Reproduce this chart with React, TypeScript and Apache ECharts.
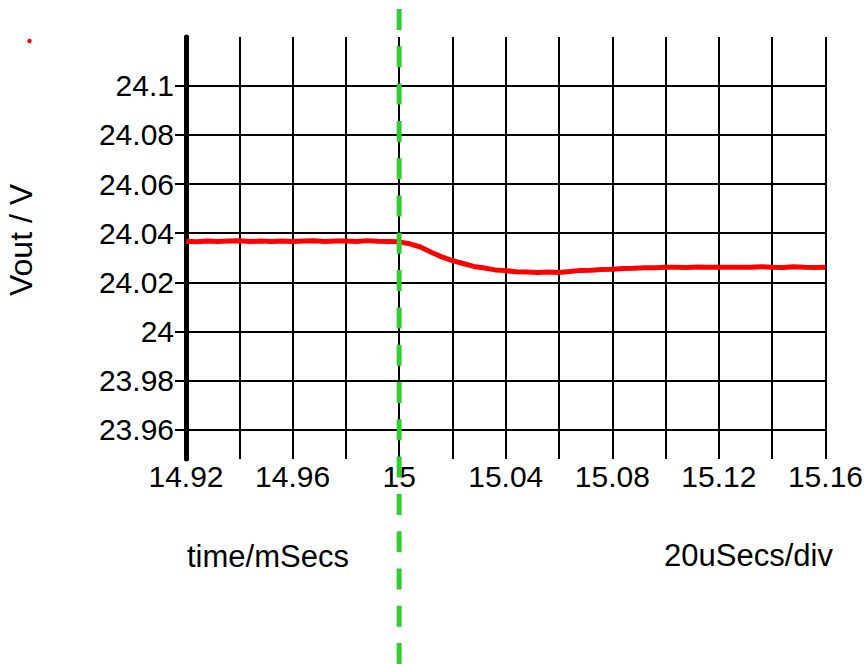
import React, { useEffect, useRef } from "react";
import * as echarts from "echarts";

// ---- data ----
const yTickValues = [23.96, 23.98, 24, 24.02, 24.04, 24.06, 24.08, 24.1];
const yTickLabels = ["23.96", "23.98", "24", "24.02", "24.04", "24.06", "24.08", "24.1"];
const xLabelValues = [14.92, 14.96, 15, 15.04, 15.08, 15.12, 15.16];
const xLabelTexts = ["14.92", "14.96", "15", "15.04", "15.08", "15.12", "15.16"];

const timeMs = [
  14.92, 14.924, 14.928, 14.932, 14.936, 14.94, 14.944, 14.948, 14.952, 14.956,
  14.96, 14.964, 14.968, 14.972, 14.976, 14.98, 14.984, 14.988, 14.992, 14.996,
  15.0, 15.004, 15.008, 15.012, 15.016, 15.02, 15.024, 15.028, 15.032, 15.036,
  15.04, 15.044, 15.048, 15.052, 15.056, 15.06, 15.064, 15.068, 15.072, 15.076,
  15.08, 15.084, 15.088, 15.092, 15.096, 15.1, 15.104, 15.108, 15.112, 15.116,
  15.12, 15.124, 15.128, 15.132, 15.136, 15.14, 15.144, 15.148, 15.152, 15.156,
  15.16,
];
const voutV = [
  24.0367, 24.0365, 24.0368, 24.0366, 24.0368, 24.0369, 24.0366, 24.0368, 24.0366, 24.0368,
  24.0366, 24.0368, 24.0369, 24.0366, 24.0368, 24.0368, 24.0366, 24.037, 24.0367, 24.0366,
  24.0365, 24.0357, 24.0344, 24.0323, 24.0304, 24.0289, 24.0277, 24.0265, 24.0259, 24.0251,
  24.0248, 24.0243, 24.0242, 24.024, 24.0242, 24.024, 24.0244, 24.0249, 24.025, 24.0253,
  24.0254, 24.0257, 24.0258, 24.0260, 24.026, 24.0262, 24.0262, 24.0261, 24.0263, 24.0262,
  24.0262, 24.0262, 24.0262, 24.0262, 24.0264, 24.0262, 24.0261, 24.0264, 24.0262, 24.0261,
  24.0262,
];

const cursorTime = 15;
const yAxisTitle = "Vout / V";
const xAxisTitle = "time/mSecs";
const divLabel = "20uSecs/div";

const FONT = "'Liberation Sans', Arial, Helvetica, sans-serif";

function lookup(values: number[], texts: string[], v: number): string {
  for (let i = 0; i < values.length; i++) {
    if (Math.abs(values[i] - v) < 1e-6) return texts[i];
  }
  return "";
}

export default function App() {
  const ref = useRef<HTMLDivElement>(null);

  useEffect(() => {
    if (!ref.current) return;
    const chart = echarts.init(ref.current, undefined, { renderer: "svg" });
    const gridLine = { color: "#000", width: 2 };
    chart.setOption({
      animation: false,
      grid: { left: 186, right: 39, top: 37, bottom: 205, containLabel: false },
      xAxis: {
        type: "value",
        min: 14.92,
        max: 15.16,
        interval: 0.02,
        axisLine: { show: false },
        axisTick: { show: false },
        splitLine: { show: true, lineStyle: gridLine },
        axisLabel: {
          customValues: xLabelValues,
          formatter: (v: number) => lookup(xLabelValues, xLabelTexts, v),
          color: "#000",
          fontSize: 30,
          fontFamily: FONT,
          margin: 2,
          showMinLabel: true,
          showMaxLabel: true,
        },
      },
      yAxis: {
        type: "value",
        min: 23.9482,
        max: 24.1198,
        axisLine: { show: true, lineStyle: { color: "#000", width: 5 } },
        axisTick: {
          show: true,
          customValues: yTickValues,
          length: 11,
          inside: false,
          lineStyle: gridLine,
        },
        splitLine: { show: true, lineStyle: gridLine },
        axisLabel: {
          customValues: yTickValues,
          formatter: (v: number) => lookup(yTickValues, yTickLabels, v),
          color: "#000",
          fontSize: 30,
          fontFamily: FONT,
          margin: 12,
        },
      },
      series: [
        {
          type: "line",
          data: timeMs.map((t, i) => [t, voutV[i]]),
          symbol: "none",
          showSymbol: false,
          lineStyle: { color: "#ff0000", width: 5 },
          z: 3,
        },
      ],
    });

    const px = chart.convertToPixel({ xAxisIndex: 0 }, cursorTime) as number;
    chart.setOption({
      graphic: [
        {
          type: "circle",
          shape: { cx: 29.5, cy: 41, r: 2.2 },
          style: { fill: "#ff0000" },
        },
        {
          type: "text",
          x: 21,
          y: 240,
          rotation: Math.PI / 2,
          style: {
            text: yAxisTitle,
            fontSize: 32,
            fontFamily: FONT,
            fill: "#000",
            align: "center",
            verticalAlign: "middle",
          },
        },
        {
          type: "text",
          x: 187,
          y: 556,
          style: {
            text: xAxisTitle,
            fontSize: 31,
            fontFamily: FONT,
            fill: "#000",
            align: "left",
            verticalAlign: "middle",
          },
        },
        {
          type: "text",
          x: 664,
          y: 555,
          style: {
            text: divLabel,
            fontSize: 31,
            fontFamily: FONT,
            fill: "#000",
            align: "left",
            verticalAlign: "middle",
          },
        },
        {
          type: "line",
          z: 100,
          shape: { x1: px, y1: 9, x2: px, y2: 664 },
          style: { stroke: "#33cc33", lineWidth: 5, lineDash: [21, 16.3] },
        },
      ],
    });

    return () => chart.dispose();
  }, []);

  return (
    <div
      ref={ref}
      style={{ position: "absolute", left: 0, top: 0, width: 866, height: 664 }}
    />
  );
}
